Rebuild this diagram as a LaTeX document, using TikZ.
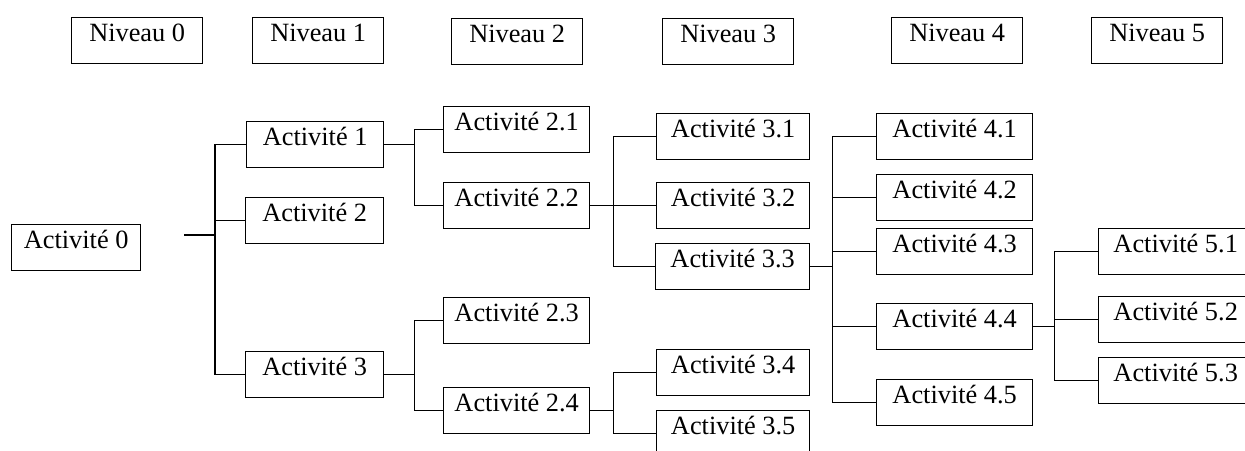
\documentclass[tikz,border=0pt]{standalone}
\usepackage{fontspec}
\setmainfont{Liberation Serif}

\begin{document}
\begin{tikzpicture}[x=0.02cm,y=-0.02cm,
  boite/.style={draw,line width=0.8pt,anchor=north west,inner xsep=0pt,inner ysep=0pt,
    text height=13.6pt,text depth=12.6pt,font=\fontsize{15}{18}\selectfont},
  niveau/.style={boite,minimum width=2.62cm},
  lien/.style={line width=0.8pt}]
\useasboundingbox (0,0) rectangle (1245,450);
\clip (0,0) rectangle (1245,450);
% niveaux
\node[niveau] (n0) at (71,17) {Niveau 0};
\node[niveau] (n1) at (252,17) {Niveau 1};
\node[niveau] (n2) at (451,18) {Niveau 2};
\node[niveau] (n3) at (662,18) {Niveau 3};
\node[niveau] (n4) at (891,17) {Niveau 4};
\node[niveau] (n5) at (1091,17) {Niveau 5};
% activites
\node[boite,minimum width=2.58cm] (a0) at (11,224) {Activité 0};
\node[boite,minimum width=2.74cm] (a1) at (246,121) {Activité 1};
\node[boite,minimum width=2.76cm] (a2) at (245,197) {Activité 2};
\node[boite,minimum width=2.76cm] (a3) at (245,351) {Activité 3};
\node[boite,minimum width=2.92cm] (a21) at (443,106) {Activité 2.1};
\node[boite,minimum width=2.92cm] (a22) at (443,182) {Activité 2.2};
\node[boite,minimum width=2.92cm] (a23) at (443,297) {Activité 2.3};
\node[boite,minimum width=2.92cm] (a24) at (443,387) {Activité 2.4};
\node[boite,minimum width=3.06cm] (a31) at (656,113) {Activité 3.1};
\node[boite,minimum width=3.06cm] (a32) at (656,182) {Activité 3.2};
\node[boite,minimum width=3.08cm] (a33) at (655,243) {Activité 3.3};
\node[boite,minimum width=3.06cm] (a34) at (656,349) {Activité 3.4};
\node[boite,minimum width=3.06cm] (a35) at (656,410) {Activité 3.5};
\node[boite,minimum width=3.12cm] (a41) at (876,113) {Activité 4.1};
\node[boite,minimum width=3.12cm] (a42) at (876,174) {Activité 4.2};
\node[boite,minimum width=3.12cm] (a43) at (876,228) {Activité 4.3};
\node[boite,minimum width=3.12cm] (a44) at (876,303) {Activité 4.4};
\node[boite,minimum width=3.12cm] (a45) at (876,379) {Activité 4.5};
\node[boite,minimum width=3.08cm] (a51) at (1098,228) {Activité 5.1};
\node[boite,minimum width=3.08cm] (a52) at (1098,296) {Activité 5.2};
\node[boite,minimum width=3.08cm] (a53) at (1098,357) {Activité 5.3};
% liens
\coordinate (s0) at (184,235);
\draw[lien] (s0) -- (215,235) coordinate (j0);
\foreach \c in {a1,a2,a3} \draw[lien] (j0) |- (\c.west);
\draw[lien] (a1.east) -- ++(30,0) coordinate (j1);
\foreach \c in {a21,a22} \draw[lien] (j1) |- (\c.west);
\draw[lien] (a3.east) -- ++(30,0) coordinate (j3);
\foreach \c in {a23,a24} \draw[lien] (j3) |- (\c.west);
\draw[lien] (a22.east) -- ++(23,0) coordinate (j22);
\foreach \c in {a31,a32,a33} \draw[lien] (j22) |- (\c.west);
\draw[lien] (a24.east) -- ++(23,0) coordinate (j24);
\foreach \c in {a34,a35} \draw[lien] (j24) |- (\c.west);
\draw[lien] (a33.east) -- ++(22,0) coordinate (j33);
\foreach \c in {a41,a42,a43,a44,a45} \draw[lien] (j33) |- (\c.west);
\draw[lien] (a44.east) -- ++(21,0) coordinate (j44);
\foreach \c in {a51,a52,a53} \draw[lien] (j44) |- (\c.west);
\end{tikzpicture}
\end{document}
